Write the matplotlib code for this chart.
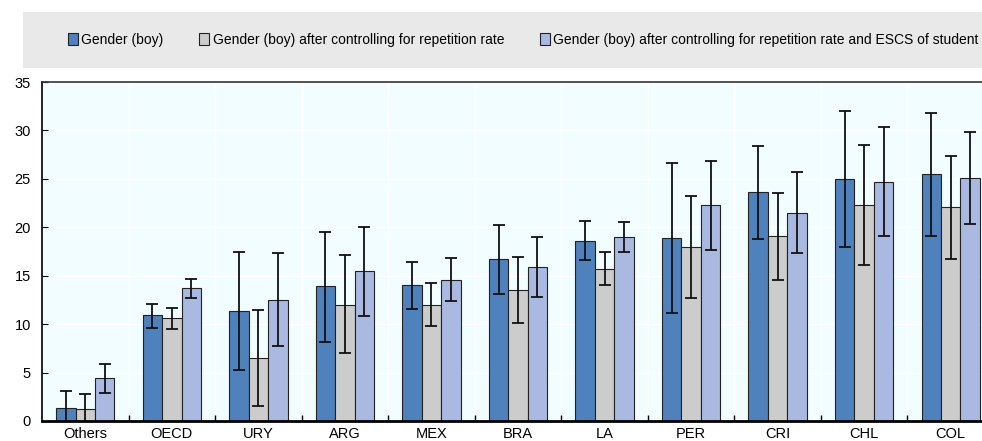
import numpy as np
import matplotlib
matplotlib.use("Agg")
import matplotlib.pyplot as plt
from matplotlib.patches import Rectangle

plt.rcParams['font.family'] = ['Liberation Sans', 'DejaVu Sans']

categories = ["Others", "OECD", "URY", "ARG", "MEX", "BRA", "LA", "PER", "CRI", "CHL", "COL"]
series_names = [
    "Gender (boy)",
    "Gender (boy) after controlling for repetition rate",
    "Gender (boy) after controlling for repetition rate and ESCS of student",
]

gender = [1.3, 10.9, 11.4, 13.9, 14.0, 16.7, 18.6, 18.9, 23.6, 25.0, 25.5]
gender_lo = [-0.4, 9.6, 5.3, 8.2, 11.6, 13.1, 16.6, 11.2, 18.8, 18.0, 19.1]
gender_hi = [3.1, 12.1, 17.5, 19.5, 16.4, 20.2, 20.6, 26.6, 28.4, 32.0, 31.8]

rep = [1.2, 10.6, 6.5, 12.0, 12.0, 13.5, 15.7, 18.0, 19.1, 22.3, 22.1]
rep_lo = [-0.4, 9.5, 1.5, 7.0, 9.8, 10.1, 14.0, 12.7, 14.6, 16.1, 16.7]
rep_hi = [2.8, 11.7, 11.5, 17.1, 14.2, 16.9, 17.4, 23.2, 23.5, 28.5, 27.4]

escs = [4.4, 13.7, 12.5, 15.5, 14.6, 15.9, 19.0, 22.3, 21.5, 24.7, 25.1]
escs_lo = [2.9, 12.7, 7.7, 10.8, 12.4, 12.8, 17.5, 17.7, 17.3, 19.1, 20.3]
escs_hi = [5.9, 14.7, 17.3, 20.0, 16.8, 19.0, 20.5, 26.8, 25.7, 30.4, 29.8]

colors = ["#4f81bd", "#cccccc", "#a9b9e2"]

fig = plt.figure(figsize=(9.82, 4.41), dpi=100)
fig.patches.append(Rectangle((23 / 982, 1 - 68 / 441), (982 - 23) / 982, 56 / 441,
                             transform=fig.transFigure, facecolor="#e9e9e9",
                             edgecolor="none", zorder=0))

ax = fig.add_axes([42 / 982, 20 / 441, 952 / 982, 339 / 441])
ax.set_facecolor("#f2fdff")

x = np.arange(len(categories))
w = 0.225
data = [(gender, gender_lo, gender_hi), (rep, rep_lo, rep_hi), (escs, escs_lo, escs_hi)]
for i, (vals, lo, hi) in enumerate(data):
    vals = np.array(vals)
    err = [vals - np.array(lo), np.array(hi) - vals]
    ax.bar(x + (i - 1) * w, vals, width=w, color=colors[i], edgecolor="#222222",
           linewidth=0.8, label=series_names[i], zorder=3)
    ax.errorbar(x + (i - 1) * w, vals, yerr=err, fmt="none", ecolor="#111111",
                elinewidth=1.3, capsize=4, capthick=1.3, zorder=4)

ax.set_xlim(-0.5, len(categories) - 0.5)
ax.set_ylim(0, 35)
ax.set_yticks(range(0, 36, 5))
ax.set_xticks(x)
ax.set_xticklabels(categories)
ax.set_xticks(np.arange(0.5, len(categories) - 0.5), minor=True)
ax.tick_params(axis="x", which="major", length=0, labelsize=10.5, pad=4)
ax.tick_params(axis="x", which="minor", length=4, width=1, direction="in")
ax.tick_params(axis="y", labelsize=10.5, length=4, direction="in", pad=8)
ax.grid(axis="y", color="white", linewidth=1, zorder=1)
ax.grid(axis="x", which="minor", color="white", linewidth=1, zorder=1)
ax.set_axisbelow(True)
for side in ["bottom", "left", "top"]:
    ax.spines[side].set_zorder(6)
ax.spines["bottom"].set_linewidth(2)
ax.spines["left"].set_linewidth(1.2)
ax.spines["top"].set_linewidth(1.2)
ax.spines["top"].set_color("#333333")
ax.spines["right"].set_visible(False)

handles, labels = ax.get_legend_handles_labels()
fig.legend(handles, labels, loc="center", bbox_to_anchor=(0.533, 1 - 40 / 441),
           ncol=3, frameon=False, fontsize=10, handlelength=0.7, handleheight=0.9,
           handletextpad=0.25, columnspacing=2.6)

fig.savefig("out.png", dpi=100)
